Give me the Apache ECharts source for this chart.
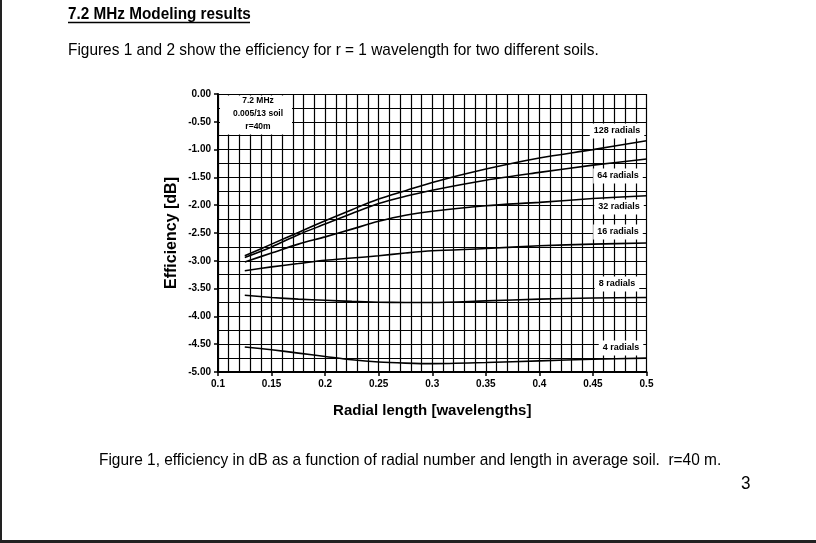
<!DOCTYPE html>
<html>
<head>
<meta charset="utf-8">
<script src="https://cdn.jsdelivr.net/npm/echarts@6/dist/echarts.min.js"></script>
<style>
html,body{margin:0;padding:0;background:#fff;}
#chart{width:816px;height:543px;}
</style>
</head>
<body>
<div id="chart"></div>
<script>
// Radial length [wavelengths]
var radialLength = [0.125, 0.15, 0.175, 0.2, 0.225, 0.25, 0.275, 0.3, 0.35, 0.4, 0.45, 0.5];
// Efficiency [dB] per radial count
var radials128 = [-2.91, -2.70, -2.49, -2.28, -2.08, -1.89, -1.74, -1.59, -1.35, -1.15, -1.00, -0.84];
var radials64  = [-2.94, -2.75, -2.53, -2.34, -2.15, -1.97, -1.84, -1.73, -1.55, -1.41, -1.28, -1.17];
var radials32  = [-3.02, -2.86, -2.70, -2.57, -2.43, -2.29, -2.18, -2.11, -2.01, -1.95, -1.88, -1.83];
var radials16  = [-3.18, -3.11, -3.05, -2.99, -2.95, -2.91, -2.86, -2.82, -2.78, -2.73, -2.70, -2.68];
var radials8   = [-3.62, -3.66, -3.69, -3.71, -3.73, -3.745, -3.75, -3.75, -3.72, -3.69, -3.67, -3.66];
var radials4   = [-4.55, -4.60, -4.66, -4.72, -4.78, -4.82, -4.84, -4.85, -4.83, -4.80, -4.77, -4.75];
var seriesNames = ['128 radials', '64 radials', '32 radials', '16 radials', '8 radials', '4 radials'];
var seriesValues = [radials128, radials64, radials32, radials16, radials8, radials4];
var infoLines = ['7.2 MHz', '0.005/13 soil', 'r=40m'];
var headingText = '7.2 MHz Modeling results';
var introText = 'Figures 1 and 2 show the efficiency for r = 1 wavelength for two different soils.';
var captionText = 'Figure 1, efficiency in dB as a function of radial number and length in average soil.  r=40 m.';
var pageNumber = '3';

var FONT = 'Liberation Sans, Arial, sans-serif';

function pairs(vals) {
  return radialLength.map(function (x, i) { return [x, vals[i]]; });
}

var series = seriesNames.map(function (name, i) {
  return {
    name: name,
    type: 'line',
    smooth: 0.3,
    showSymbol: false,
    symbol: 'none',
    lineStyle: { color: '#000', width: 1.6 },
    data: pairs(seriesValues[i]),
    z: 3
  };
});

// label positions (pixels) for the radial tags
var tagPos = [[617, 131], [618, 176], [619, 207], [618, 232], [617, 284], [621, 348]];

var graphics = [
  { type: 'rect', shape: { x: 0, y: 0, width: 2, height: 543 }, style: { fill: '#222' }, z: 100 },
  { type: 'rect', shape: { x: 0, y: 540, width: 816, height: 3 }, style: { fill: '#222' }, z: 100 },
  { type: 'text', x: 68, y: 14, scaleX: 0.9, style: { text: headingText, x: 0, y: 0, fill: '#000',
      font: 'bold 17px ' + FONT, textAlign: 'left', textVerticalAlign: 'middle' }, z: 100 },
  { type: 'line', shape: { x1: 68, y1: 22.5, x2: 250, y2: 22.5 }, style: { stroke: '#000', lineWidth: 1.5 }, z: 100 },
  { type: 'text', x: 68, y: 50, scaleX: 0.906, style: { text: introText, x: 0, y: 0, fill: '#000',
      font: '17px ' + FONT, textAlign: 'left', textVerticalAlign: 'middle' }, z: 100 },
  { type: 'text', x: 99, y: 460, scaleX: 0.908, style: { text: captionText, x: 0, y: 0, fill: '#000',
      font: '17px ' + FONT, textAlign: 'left', textVerticalAlign: 'middle' }, z: 100 },
  { type: 'text', x: 741, y: 484, scaleX: 0.95, style: { text: pageNumber, x: 0, y: 0, fill: '#000',
      font: '18px ' + FONT, textAlign: 'left', textVerticalAlign: 'middle' }, z: 100 },
  // info box
  { type: 'rect', shape: { x: 220, y: 95.5, width: 72, height: 39 }, style: { fill: '#fff' }, z: 50 },
  { type: 'text', x: 258, y: 114, style: { text: infoLines.join('\n'), fill: '#000', font: 'bold 8.5px ' + FONT,
      textAlign: 'center', textVerticalAlign: 'middle', lineHeight: 13 }, z: 51 }
];
seriesNames.forEach(function (name, i) {
  graphics.push({ type: 'text', x: tagPos[i][0], y: tagPos[i][1], style: {
    text: name, fill: '#000', font: 'bold 9px ' + FONT, textAlign: 'center', textVerticalAlign: 'middle',
    backgroundColor: '#fff', padding: [3, 4, 3, 4] }, z: 50 });
});

var chart = echarts.init(document.getElementById('chart'), null, { renderer: 'canvas' });
chart.setOption({
  animation: false,
  backgroundColor: '#fff',
  grid: { left: 218, right: 169.5, top: 94, bottom: 171, containLabel: false },
  xAxis: {
    type: 'value', min: 0.1, max: 0.5, interval: 0.05,
    name: 'Radial length [wavelengths]', nameLocation: 'middle', nameGap: 31,
    nameTextStyle: { fontFamily: FONT, fontWeight: 'bold', fontSize: 15, color: '#000' },
    axisLine: { show: true, onZero: false, lineStyle: { color: '#000', width: 2 } },
    axisTick: { show: true, length: 4, lineStyle: { color: '#000', width: 1.5 } },
    axisLabel: { fontFamily: FONT, fontWeight: 'bold', fontSize: 10, color: '#000', margin: 7,
      formatter: function (v) { return String(+v.toFixed(2)); } },
    splitLine: { show: true, lineStyle: { color: '#000', width: 1.2 } },
    minorTick: { show: false, splitNumber: 5 },
    minorSplitLine: { show: true, lineStyle: { color: '#000', width: 1.2 } }
  },
  yAxis: {
    type: 'value', min: -5, max: 0, interval: 0.5,
    name: 'Efficiency [dB]', nameLocation: 'middle', nameGap: 46, nameRotate: 90,
    nameMoveOverlap: false,
    nameTextStyle: { fontFamily: FONT, fontWeight: 'bold', fontSize: 16, color: '#000', verticalAlign: 'middle' },
    axisLine: { show: true, onZero: false, lineStyle: { color: '#000', width: 2 } },
    axisTick: { show: true, length: 4, lineStyle: { color: '#000', width: 1.5 } },
    axisLabel: { fontFamily: FONT, fontWeight: 'bold', fontSize: 10, color: '#000', margin: 7,
      formatter: function (v) { return v.toFixed(2); } },
    splitLine: { show: true, lineStyle: { color: '#000', width: 1.2 } },
    minorTick: { show: false, splitNumber: 2 },
    minorSplitLine: { show: true, lineStyle: { color: '#000', width: 1.2 } }
  },
  series: series,
  graphic: graphics
});
</script>
</body>
</html>
